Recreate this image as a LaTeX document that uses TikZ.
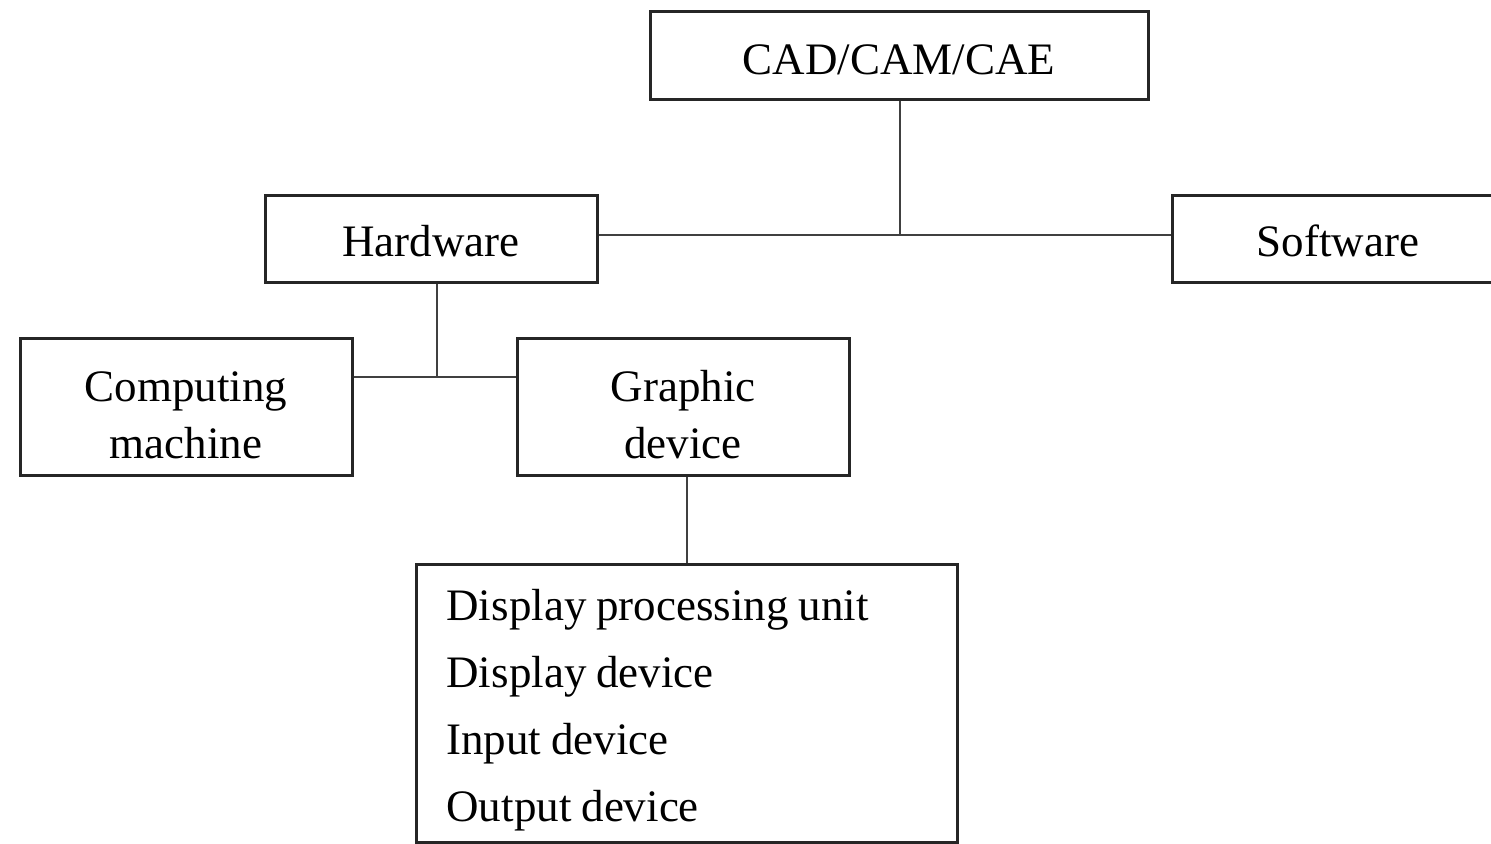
\documentclass[tikz,border=0pt]{standalone}
\usepackage{fontspec}
\setmainfont{Liberation Serif}
\newcommand\tightwords{\spaceskip=5pt plus 0.5pt\relax}
\begin{document}
\begin{tikzpicture}[x=0.5pt,y=-0.5pt,
  box/.style={draw=black!85, line width=1.5pt, fill=white, inner sep=0pt,
    font=\fontsize{22.5}{28.5}\selectfont, align=center, text depth=0pt},
  link/.style={draw=black!75, line width=1pt}]
\useasboundingbox (0,0) rectangle (1491,844);
\clip (0,0) rectangle (1491,844);
% top level
\node[box, minimum width=249pt, minimum height=44pt, text height=19pt] (cad) at (899,56) {CAD/CAM/CAE};
\node[box, minimum width=166pt, minimum height=43.5pt, text height=17.5pt] (hw) at (431,239.5) {Hardware};
\node[box, minimum width=166pt, minimum height=43.5pt, text height=17.5pt] (sw) at (1338,239.5) {Software};
% hardware parts
\node[box, minimum width=166pt, minimum height=68.5pt, text height=51.5pt] (cm) at (186,406.5) {Computing\\machine};
\node[box, minimum width=166pt, minimum height=68.5pt, text height=51.5pt] (gd) at (683,406.5) {Graphic\\device};
% graphic device parts, with tighter word spacing
\node[box, minimum width=270.5pt, minimum height=139pt, align=left,
  text width=240pt, text height=17.5pt, text depth=100.5pt,
  font=\fontsize{22.5}{33.5}\selectfont] (parts) at (686.5,703)
  {\tightwords Display processing unit\\Display device\\Input device\\Output device};
% connectors
\coordinate (j0) at (900,235);
\coordinate (j1) at (437,377);
\draw[link] (cad.south -| j0) -- (j0);
\draw[link] (hw.east |- j0) -- (sw.west |- j0);
\draw[link] (hw.south -| j1) -- (j1);
\draw[link] (cm.east |- j1) -- (gd.west |- j1);
\draw[link] (gd.south -| parts.north) -- (parts.north);
\end{tikzpicture}
\end{document}
